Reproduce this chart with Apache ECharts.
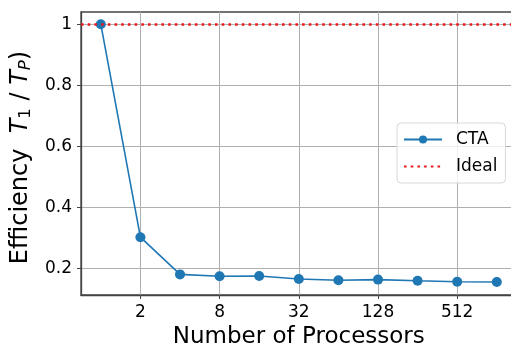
<!DOCTYPE html>
<html>
<head>
<meta charset="utf-8">
<script src="https://cdn.jsdelivr.net/npm/echarts@6/dist/echarts.min.js"></script>
<style>html,body{margin:0;padding:0;background:#fff}#c{width:511px;height:347px}</style>
</head>
<body>
<div id="c"></div>
<script>
const processors = [1, 2, 4, 8, 16, 32, 64, 128, 256, 512, 1024];
const ctaEfficiency = [1.0, 0.302, 0.180, 0.174, 0.175, 0.165, 0.161, 0.163, 0.159, 0.156, 0.155];
const idealEfficiency = 1;
const xTickLabels = [2, 8, 32, 128, 512];
const yTickValues = [0.2, 0.4, 0.6, 0.8, 1];

const FONT = 'DejaVu Sans';
const xTicks = xTickLabels.map(v => Math.log2(v));
const DOT = [2.6, 4.1];
const chart = echarts.init(document.getElementById('c'), null, {renderer: 'canvas'});
chart.setOption({
  animation: false,
  backgroundColor: '#fff',
  textStyle: {fontFamily: FONT},
  grid: {left: 81, top: 12, width: 435.6, height: 283, containLabel: false, outerBoundsMode: 'none',
         show: true, borderColor: '#444', borderWidth: 1.3, backgroundColor: 'transparent'},
  xAxis: {
    type: 'value', min: -0.5, max: 10.5,
    name: 'Number of Processors', nameLocation: 'middle', nameGap: 29,
    nameTextStyle: {fontSize: 23, color: '#000', fontFamily: FONT},
    axisLine: {show: true, onZero: false, lineStyle: {color: '#444', width: 1.3}},
    axisTick: {show: true, customValues: xTicks, length: 4, lineStyle: {color: '#444'}},
    axisLabel: {customValues: xTicks, formatter: v => String(Math.round(Math.pow(2, v))), fontSize: 17, color: '#000', margin: 9, fontFamily: FONT},
    splitLine: {show: true, customValues: xTicks, lineStyle: {color: '#b0b0b0', width: 1}}
  },
  yAxis: {
    type: 'value', min: 0.1125, max: 1.04,
    name: '{a|Efficiency  }{i|T}{s|1}{a| / }{i|T}{si|P}{a|)}',
    nameLocation: 'middle', nameGap: 44, nameRotate: 90,
    nameTextStyle: {
      fontSize: 24, color: '#000', fontFamily: FONT, padding: [0, 8, 0, 0],
      rich: {
        a: {fontSize: 24, fontFamily: FONT, color: '#000'},
        i: {fontSize: 24, fontFamily: FONT, fontStyle: 'italic', color: '#000'},
        s: {fontSize: 16.5, fontFamily: FONT, color: '#000', padding: [9, 0, 0, 0]},
        si: {fontSize: 16.5, fontFamily: FONT, fontStyle: 'italic', color: '#000', padding: [9, 0, 0, 0]}
      }
    },
    axisLine: {show: true, onZero: false, lineStyle: {color: '#444', width: 1.3}},
    axisTick: {show: true, customValues: yTickValues, length: 4, lineStyle: {color: '#444'}},
    axisLabel: {customValues: yTickValues, formatter: v => String(+v.toFixed(1)), fontSize: 17, color: '#000', margin: 9, fontFamily: FONT},
    splitLine: {show: true, customValues: yTickValues, lineStyle: {color: '#b0b0b0', width: 1}}
  },
  legend: {
    show: true, left: 397, top: 123,
    orient: 'vertical',
    data: ['CTA', {name: 'Ideal', itemStyle: {color: 'rgba(0,0,0,0)', borderColor: 'rgba(0,0,0,0)', borderWidth: 0}}],
    itemWidth: 38, itemHeight: 10, itemGap: 10,
    padding: [8, 8, 8, 6],
    borderColor: '#d8d8d8', borderWidth: 1, borderRadius: 4,
    backgroundColor: 'rgba(255,255,255,0.8)',
    textStyle: {fontSize: 17, color: '#000', fontFamily: FONT, padding: [0, 0, 0, 9]}
  },
  series: [
    {
      name: 'CTA', type: 'line',
      data: processors.map((p, i) => [Math.log2(p), ctaEfficiency[i]]),
      symbol: 'circle', symbolSize: 10,
      itemStyle: {color: '#1f77b4'},
      lineStyle: {color: '#1f77b4', width: 1.6},
      z: 3
    },
    {
      name: 'Ideal', type: 'line', data: [],
      symbol: 'none', showSymbol: false,
      itemStyle: {color: '#e8191b'},
      lineStyle: {color: '#e8191b', width: 2.5, type: DOT},
      markLine: {
        silent: true, symbol: 'none', label: {show: false},
        data: [{yAxis: idealEfficiency}],
        lineStyle: {color: '#e8191b', width: 2.5, type: DOT}
      },
      z: 4
    }
  ]
});
</script>
</body>
</html>
